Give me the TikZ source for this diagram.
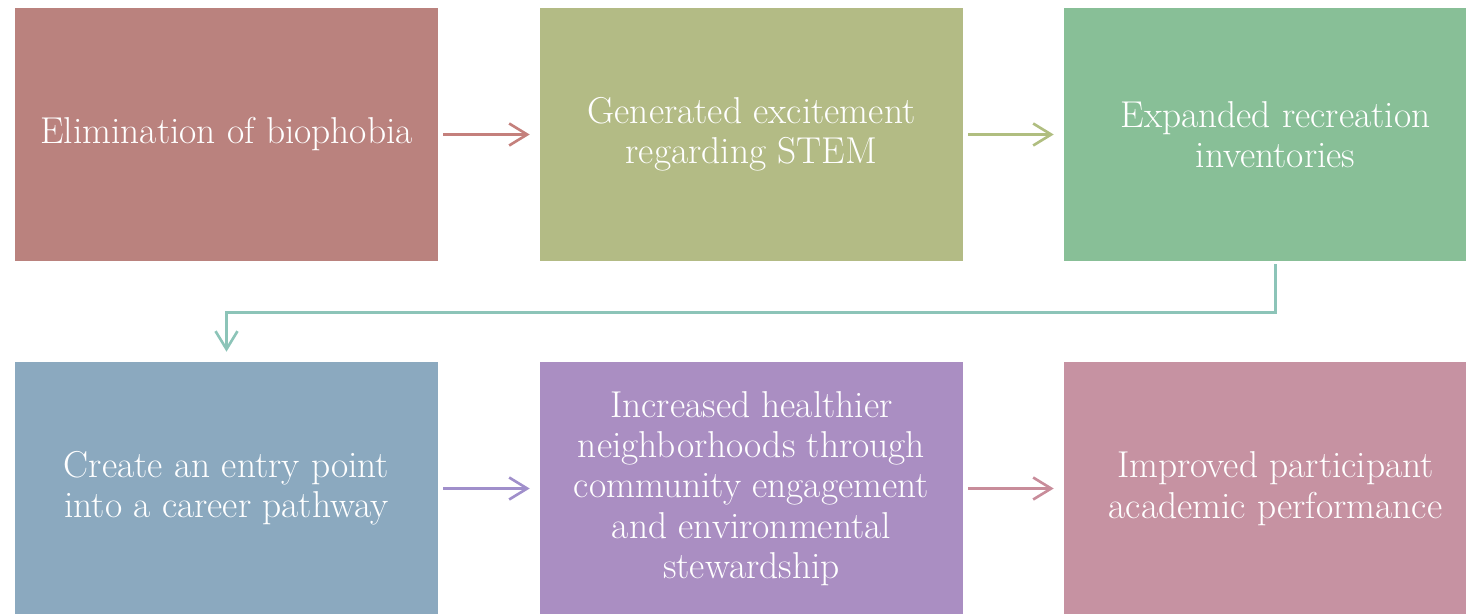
\documentclass[tikz,border=0pt]{standalone}
\usepackage{tikz}
\usepackage{xcolor}
\usetikzlibrary{calc,arrows.meta}
\definecolor{stepRose}{RGB}{186,130,126}
\definecolor{stepOlive}{RGB}{179,187,133}
\definecolor{stepGreen}{RGB}{136,191,151}
\definecolor{stepBlue}{RGB}{139,169,191}
\definecolor{stepViolet}{RGB}{170,142,194}
\definecolor{stepPink}{RGB}{198,146,162}
\definecolor{linkRose}{RGB}{196,128,124}
\definecolor{linkOlive}{RGB}{176,190,128}
\definecolor{linkTeal}{RGB}{140,196,184}
\definecolor{linkViolet}{RGB}{160,143,203}
\definecolor{linkPink}{RGB}{200,140,154}
\tikzset{
  stepbox/.style={minimum width=8.46cm,minimum height=5.06cm,inner sep=0pt,
    text=white,align=center,font=\fontsize{21.3}{23}\selectfont},
  link/.style={line width=1.5pt,-{Straight Barb[length=0.36cm,width=0.44cm,line width=1.5pt]},
    shorten <=0.1cm,shorten >=0.2cm}
}
\begin{document}
\begin{tikzpicture}[x=0.02cm,y=0.02cm]
\useasboundingbox (0,0) rectangle (1466,613);
\clip (0,0) rectangle (1466,613);
% top row
\node[stepbox,fill=stepRose] (elim) at (226.5,478.5) {Elimination of biophobia};
\node[stepbox,fill=stepOlive] (stem) at (751.5,478.5) {Generated excitement\\regarding STEM};
\node[stepbox,fill=stepGreen] (recr) at (1275.5,478.5) {Expanded recreation\\inventories};
% bottom row
\node[stepbox,fill=stepBlue] (career) at (226.5,124.5) {Create an entry point\\into a career pathway};
\node[stepbox,fill=stepViolet] (hood) at (751.5,124.5) {Increased healthier\\neighborhoods through\\community engagement\\and environmental\\stewardship};
\node[stepbox,fill=stepPink] (acad) at (1275.5,124.5) {Improved participant\\academic performance};
% connectors
\draw[link,linkRose] (elim) -- (stem);
\draw[link,linkOlive] (stem) -- (recr);
\draw[link,linkTeal,shorten <=0.06cm] (recr.south) -- ++(0,-51) -| (career.north);
\draw[link,linkViolet] (career) -- (hood);
\draw[link,linkPink] (hood) -- (acad);
\end{tikzpicture}
\end{document}
